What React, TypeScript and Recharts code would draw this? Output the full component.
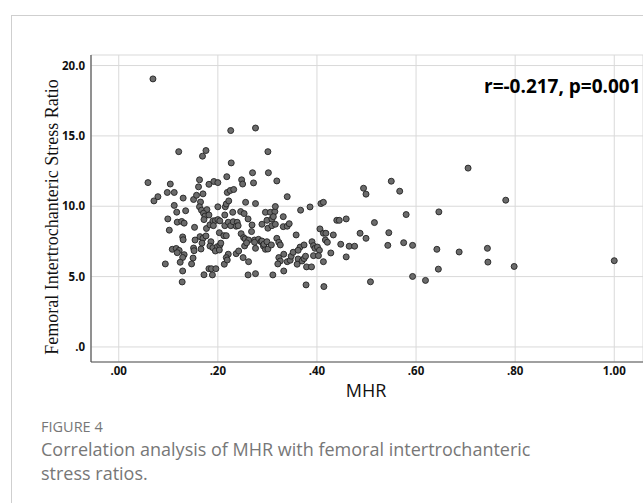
import { CartesianGrid, Scatter, ScatterChart, XAxis, YAxis } from 'recharts';

// MHR (x) and femoral intertrochanteric stress ratio (y)
const mhrValues = [
  0.069, 0.059, 0.071, 0.079, 0.098, 0.099, 0.102, 0.094, 0.104, 0.112,
  0.112, 0.121, 0.117, 0.135, 0.118, 0.127, 0.132, 0.13, 0.129, 0.13,
  0.108, 0.116, 0.122, 0.118, 0.132, 0.129, 0.124, 0.129, 0.128, 0.151,
  0.157, 0.163, 0.161, 0.17, 0.169, 0.176, 0.182, 0.192, 0.165, 0.163,
  0.167, 0.178, 0.171, 0.174, 0.172, 0.182, 0.153, 0.177, 0.184, 0.19,
  0.154, 0.164, 0.17, 0.176, 0.168, 0.166, 0.186, 0.184, 0.19, 0.151,
  0.152, 0.15, 0.147, 0.172, 0.182, 0.187, 0.189, 0.196, 0.2, 0.218,
  0.226, 0.227, 0.219, 0.225, 0.232, 0.2, 0.215, 0.217, 0.222, 0.195,
  0.2, 0.204, 0.191, 0.214, 0.221, 0.226, 0.231, 0.239, 0.237, 0.241,
  0.203, 0.212, 0.217, 0.199, 0.204, 0.206, 0.195, 0.203, 0.214, 0.23,
  0.221, 0.217, 0.213, 0.219, 0.237, 0.242, 0.246, 0.253, 0.261, 0.256,
  0.276, 0.248, 0.25, 0.27, 0.272, 0.276, 0.269, 0.247, 0.252, 0.255,
  0.262, 0.268, 0.254, 0.276, 0.251, 0.262, 0.261, 0.276, 0.289, 0.296,
  0.274, 0.282, 0.287, 0.292, 0.296, 0.299, 0.274, 0.289, 0.293, 0.299,
  0.258, 0.306, 0.315, 0.309, 0.312, 0.332, 0.301, 0.309, 0.316, 0.332,
  0.301, 0.302, 0.319, 0.316, 0.34, 0.301, 0.308, 0.319, 0.323, 0.326,
  0.323, 0.326, 0.321, 0.333, 0.333, 0.311, 0.34, 0.344, 0.34, 0.346,
  0.348, 0.352, 0.358, 0.366, 0.362, 0.374, 0.362, 0.36, 0.37, 0.374,
  0.377, 0.379, 0.389, 0.393, 0.367, 0.386, 0.408, 0.413, 0.39, 0.393,
  0.396, 0.401, 0.405, 0.403, 0.406, 0.413, 0.418, 0.417, 0.421, 0.433,
  0.413, 0.378, 0.414, 0.428, 0.44, 0.445, 0.459, 0.448, 0.465, 0.476,
  0.459, 0.487, 0.494, 0.499, 0.499, 0.508, 0.516, 0.543, 0.545, 0.55,
  0.567, 0.575, 0.58, 0.593, 0.593, 0.619, 0.642, 0.646, 0.645, 0.687,
  0.705, 0.744, 0.745, 0.781, 0.798, 1.0,
];

const stressRatios = [
  19.05, 11.68, 10.38, 10.68, 10.98, 9.1, 8.3, 5.9, 11.58, 10.98,
  10.06, 13.88, 9.58, 9.68, 8.87, 8.92, 8.8, 10.58, 7.82, 7.62,
  6.94, 7.0, 6.86, 6.7, 6.56, 6.36, 6.02, 5.4, 4.62, 10.48,
  10.78, 11.88, 11.38, 10.88, 13.56, 13.96, 11.56, 11.76, 10.3, 9.96,
  9.72, 9.76, 9.5, 9.3, 9.05, 9.38, 8.5, 8.42, 8.68, 8.96,
  7.6, 7.84, 7.72, 7.89, 7.38, 6.96, 7.48, 7.17, 7.05, 7.03,
  6.84, 6.32, 5.9, 5.13, 5.56, 5.56, 5.12, 5.56, 11.68, 12.1,
  15.38, 13.08, 10.98, 11.12, 11.19, 9.96, 9.96, 10.16, 10.38, 8.98,
  9.05, 8.96, 8.62, 8.62, 8.86, 8.62, 8.9, 8.86, 8.58, 8.62,
  8.12, 7.91, 7.91, 7.13, 7.22, 7.38, 6.82, 6.89, 9.38, 9.57,
  6.59, 6.35, 5.88, 6.18, 6.63, 6.82, 9.62, 9.48, 9.1, 10.28,
  10.19, 11.88, 11.58, 12.38, 11.66, 15.56, 8.67, 8.05, 7.77, 7.68,
  7.6, 8.2, 7.18, 7.01, 6.35, 6.06, 5.12, 5.21, 8.72, 9.57,
  7.6, 7.65, 7.48, 7.17, 6.94, 9.0, 7.44, 7.53, 7.3, 7.48,
  7.4, 9.57, 9.62, 9.1, 9.26, 9.26, 8.44, 8.62, 8.72, 8.55,
  13.88, 12.38, 11.8, 9.98, 10.68, 6.96, 7.25, 7.72, 7.44, 7.25,
  6.35, 6.11, 5.9, 6.59, 5.4, 5.12, 8.58, 8.76, 6.06, 6.16,
  6.45, 6.73, 7.96, 7.1, 6.87, 7.25, 6.25, 5.88, 6.11, 6.28,
  6.45, 5.69, 5.69, 6.49, 9.72, 9.95, 10.19, 10.28, 7.48, 7.2,
  7.01, 7.1, 6.87, 6.49, 8.39, 8.08, 8.08, 7.6, 7.44, 7.96,
  6.06, 4.41, 4.29, 6.68, 9.0, 9.0, 9.1, 7.3, 7.16, 7.16,
  6.4, 8.08, 11.28, 10.86, 7.72, 4.63, 8.84, 7.22, 8.12, 11.78,
  11.07, 7.41, 9.41, 7.22, 5.01, 4.73, 6.94, 9.6, 5.53, 6.75,
  12.71, 7.01, 6.03, 10.43, 5.72, 6.13,
];

const xTicks = [0, 0.2, 0.4, 0.6, 0.8, 1.0];
const yTicks = [0, 5, 10, 15, 20];

const points = mhrValues.map((mhr, i) => ({ mhr, ratio: stressRatios[i] }));

const formatX = (v: number) => (v >= 1 ? v.toFixed(2) : '.' + v.toFixed(2).split('.')[1]);
const formatY = (v: number) => (v === 0 ? '.0' : v.toFixed(1));

const tickStyle = { fontFamily: '"Noto Sans", sans-serif', fontSize: 11.5, fontWeight: 700, fill: '#111' };

const Dot = (props: any) => (
  <circle cx={props.cx} cy={props.cy} r={3} fill="#6b6b6b" stroke="#222" strokeWidth={0.9} />
);

export default function App() {
  return (
    <div style={{ position: 'absolute', left: 0, top: 0, width: 643, height: 503, background: '#fff', overflow: 'hidden' }}>
      <div
        style={{
          position: 'absolute',
          left: 11,
          top: 15,
          width: 640,
          height: 500,
          borderLeft: '1px solid #cfcfcf',
          borderTop: '1px solid #cfcfcf',
        }}
      />
      <ScatterChart
        width={643}
        height={503}
        margin={{ top: 55, right: 0, bottom: 111, left: 31 }}
        style={{ position: 'absolute', left: 0, top: 0 }}
      >
        <CartesianGrid stroke="#d9d9d9" strokeWidth={1} />
        <XAxis
          type="number"
          dataKey="mhr"
          domain={[-0.056, 1.058]}
          ticks={xTicks}
          tickFormatter={formatX}
          allowDataOverflow
          height={30}
          axisLine={{ stroke: '#555', strokeWidth: 1.2 }}
          tickLine={false}
          tickSize={3}
          tick={tickStyle}
        />
        <YAxis
          type="number"
          dataKey="ratio"
          domain={[-1.07, 20.75]}
          ticks={yTicks}
          tickFormatter={formatY}
          allowDataOverflow
          width={60}
          axisLine={{ stroke: '#555', strokeWidth: 1.2 }}
          tickLine={false}
          tickSize={4}
          tick={tickStyle}
        />
        <Scatter data={points} shape={Dot} isAnimationActive={false} />
      </ScatterChart>
      <svg width={643} height={503} style={{ position: 'absolute', left: 0, top: 0, pointerEvents: 'none' }}>
        <text
          x={58}
          y={217}
          transform="rotate(-90 58 217)"
          textAnchor="middle"
          style={{ fontFamily: '"Liberation Serif", serif', fontSize: 18, fill: '#111' }}
        >
          Femoral Intertrochanteric Stress Ratio
        </text>
        <text x={484} y={92.5} style={{ fontFamily: '"Open Sans", sans-serif', fontSize: 19, fontWeight: 700, fill: '#000' }}>
          r=-0.217, p=0.001
        </text>
        <text x={366} y={397} textAnchor="middle" style={{ fontFamily: '"Open Sans", sans-serif', fontSize: 18, fill: '#111' }}>
          MHR
        </text>
        <text x={41} y={432} style={{ fontFamily: '"Open Sans", sans-serif', fontSize: 14.5, fill: '#777' }}>
          FIGURE 4
        </text>
        <text x={41} y={455.5} style={{ fontFamily: '"Open Sans", sans-serif', fontSize: 18, fill: '#777' }}>
          Correlation analysis of MHR with femoral intertrochanteric
        </text>
        <text x={41} y={479.5} style={{ fontFamily: '"Open Sans", sans-serif', fontSize: 18, fill: '#777' }}>
          stress ratios.
        </text>
      </svg>
    </div>
  );
}
